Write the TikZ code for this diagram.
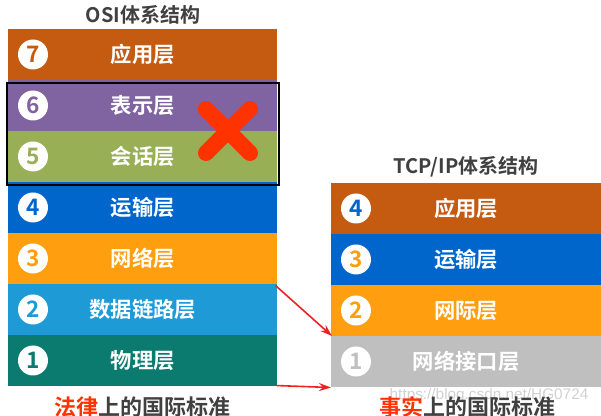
\documentclass[tikz,border=0pt]{standalone}
\usepackage{fontspec}
\setmainfont{Noto Sans CJK SC}[BoldFont={Noto Sans CJK SC Bold}]
\newfontfamily\wmfont{Liberation Sans}
\usetikzlibrary{arrows.meta}
\definecolor{cApp}{HTML}{C55A11}
\definecolor{cPre}{HTML}{8064A2}
\definecolor{cSes}{HTML}{98AF55}
\definecolor{cTra}{HTML}{0066CC}
\definecolor{cNet}{HTML}{FF9E0E}
\definecolor{cDat}{HTML}{1E9BD7}
\definecolor{cPhy}{HTML}{0B7B70}
\definecolor{cIf}{HTML}{BFBFBF}
\definecolor{cTitle}{HTML}{404040}
\definecolor{cRed}{HTML}{FF3300}
\definecolor{cArrow}{HTML}{EE2222}
\begin{document}
\begin{tikzpicture}[x=0.75pt,y=-0.75pt,
  layer/.style={fill=#1, draw=none, minimum width=269*0.75pt, minimum height=51*0.75pt,
    inner sep=0pt, anchor=north west, text=white, font=\fontsize{16pt}{16pt}\selectfont\bfseries},
  tlayer/.style={layer=#1, minimum width=270*0.75pt},
  num/.style={circle, fill=white, minimum size=30*0.75pt, inner sep=0pt, text=#1,
    font=\fontsize{17pt}{17pt}\selectfont\bfseries},
  title/.style={text=cTitle, font=\fontsize{15pt}{15pt}\selectfont\bfseries},
  foot/.style={text=cTitle, font=\fontsize{16.5pt}{16.5pt}\selectfont\bfseries},
  redarrow/.style={draw=cArrow, line width=1.6pt*0.75, -{Stealth[length=9pt,width=6pt]}}
]
\useasboundingbox (0,0) rectangle (601,416);
% OSI
\node[title] (osititle) at (143,15) {OSI体系结构};
\node[layer=cApp] (osi7) at (8,29) {应用层};
\node[layer=cPre] (osi6) at (8,80) {表示层};
\node[layer=cSes] (osi5) at (8,131) {会话层};
\node[layer=cTra] (osi4) at (8,182) {运输层};
\node[layer=cNet] (osi3) at (8,233) {网络层};
\node[layer=cDat] (osi2) at (8,284) {数据链路层};
\node[layer=cPhy] (osi1) at (8,335) {物理层};
\node[num=cApp] (n7) at (33,54.5) {7};
\node[num=cPre] (n6) at (33,105.5) {6};
\node[num=cSes] (n5) at (33,156.5) {5};
\node[num=cTra] (n4) at (33,207.5) {4};
\node[num=cNet] (n3) at (33,258.5) {3};
\node[num=cDat] (n2) at (33,309.5) {2};
\node[num=cPhy] (n1) at (33,360.5) {1};
\node[draw=black, line width=1.5pt, minimum width=272*0.75pt, minimum height=102*0.75pt,
  inner sep=0pt, anchor=north west] (frame) at (6,82) {};
% red cross
\node (cross) at (228,131) {};
\draw[cRed, line width=16*0.75pt, line cap=round] (206,109) -- (250,153);
\draw[cRed, line width=16*0.75pt, line cap=round] (250,109) -- (206,153);
% TCP/IP
\node[title] (tcptitle) at (466,167) {TCP/IP体系结构};
\node[tlayer=cApp] (tcp4) at (331,183) {应用层};
\node[tlayer=cTra] (tcp3) at (331,234) {运输层};
\node[tlayer=cNet] (tcp2) at (331,285) {网际层};
\node[tlayer=cIf] (tcp1) at (331,336) {网络接口层};
\node[num=cTra] (m4) at (356,208.5) {4};
\node[num=cNet] (m3) at (356,259.5) {3};
\node[num=cNet] (m2) at (356,310.5) {2};
\node[num=cIf] (m1) at (356,361.5) {1};
% arrows
\draw[redarrow] ([xshift=-2*0.75pt,yshift=-1*0.75pt]osi3.south east) -- ([xshift=1*0.75pt]tcp1.north west);
\draw[redarrow] ([xshift=-1*0.75pt,yshift=1*0.75pt]osi1.south east) -- (tcp1.south west);
% watermark
\node[text=black!18, font=\wmfont\fontsize{11.5pt}{11.5pt}\selectfont, anchor=west] (wm) at (385,396) {https://blog.csdn.net/HG0724};
% footers
\node[foot] (foot1) at (143,407) {\textcolor{cRed}{法律}上的国际标准};
\node[foot] (foot2) at (467,407) {\textcolor{cRed}{事实}上的国际标准};
\end{tikzpicture}
\end{document}
